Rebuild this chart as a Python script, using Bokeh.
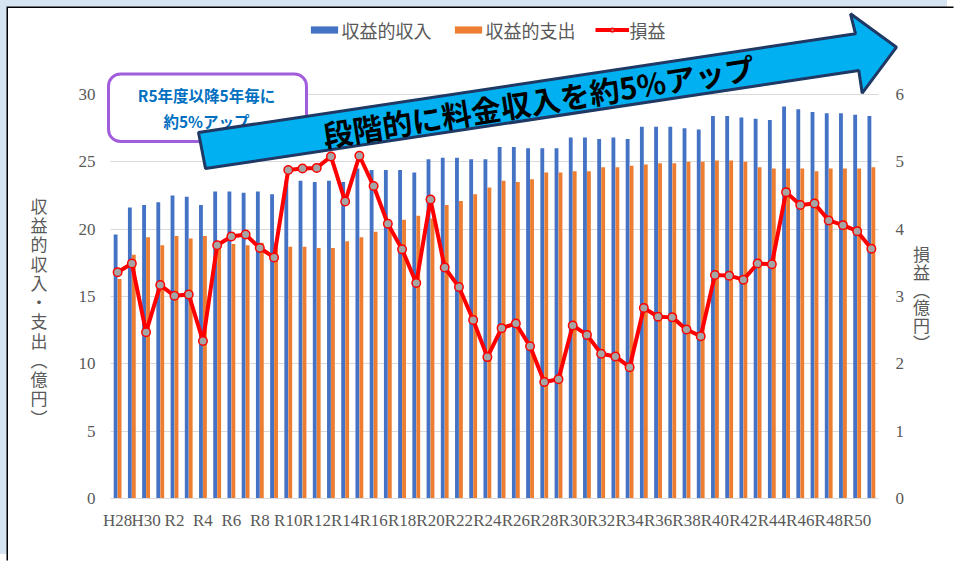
from bokeh.plotting import figure
from bokeh.models import (Range1d, LinearAxis, FixedTicker, Legend, LegendItem, Label,
                          BoxAnnotation, PolyAnnotation, ColumnDataSource)
from bokeh.transform import dodge
from bokeh.embed import file_html
from bokeh.resources import INLINE

# ---------------- data ----------------
years = ["H28", "H29", "H30", "R1", "R2", "R3", "R4", "R5", "R6", "R7", "R8", "R9", "R10",
         "R11", "R12", "R13", "R14", "R15", "R16", "R17", "R18", "R19", "R20", "R21", "R22",
         "R23", "R24", "R25", "R26", "R27", "R28", "R29", "R30", "R31", "R32", "R33", "R34",
         "R35", "R36", "R37", "R38", "R39", "R40", "R41", "R42", "R43", "R44", "R45", "R46",
         "R47", "R48", "R49", "R50", "R51"]
revenue = [19.6, 21.6, 21.8, 22.0, 22.5, 22.4, 21.8, 22.8, 22.8, 22.7, 22.8, 22.6, 23.6,
           23.6, 23.5, 23.6, 23.5, 24.5, 24.4, 24.4, 24.4, 24.2, 25.2, 25.3, 25.3,
           25.2, 25.2, 26.1, 26.1, 26.0, 26.0, 26.0, 26.8, 26.8, 26.7, 26.8, 26.7,
           27.6, 27.6, 27.6, 27.5, 27.4, 28.4, 28.4, 28.3, 28.2, 28.1, 29.1, 28.9,
           28.7, 28.6, 28.6, 28.5, 28.4]
expense = [16.3, 18.1, 19.4, 18.8, 19.5, 19.3, 19.5, 19.1, 18.9, 18.8, 19.0, 19.0, 18.7,
           18.7, 18.6, 18.6, 19.1, 19.4, 19.8, 20.3, 20.7, 21.0, 20.8, 21.8, 22.1,
           22.6, 23.1, 23.6, 23.5, 23.7, 24.2, 24.2, 24.3, 24.3, 24.6, 24.6, 24.7,
           24.8, 24.9, 24.9, 25.0, 25.0, 25.1, 25.1, 25.0, 24.6, 24.5, 24.5, 24.5,
           24.3, 24.5, 24.5, 24.5, 24.6]
profit = [3.36, 3.49, 2.47, 3.17, 3.01, 3.03, 2.34, 3.76, 3.89, 3.92, 3.72, 3.58, 4.88,
          4.90, 4.91, 5.08, 4.41, 5.09, 4.64, 4.08, 3.70, 3.20, 4.44, 3.43, 3.14,
          2.65, 2.10, 2.53, 2.60, 2.26, 1.73, 1.77, 2.57, 2.43, 2.15, 2.11, 1.95,
          2.83, 2.70, 2.69, 2.51, 2.41, 3.32, 3.31, 3.25, 3.49, 3.48, 4.55, 4.36,
          4.38, 4.13, 4.06, 3.97, 3.71]
left_ticks = [0, 5, 10, 15, 20, 25, 30]
right_ticks = [0, 1, 2, 3, 4, 5, 6]
idx = list(range(len(years)))
shown = {i: years[i] for i in idx if i % 2 == 0}

# ---------------- layout (page pixels) ----------------
CW, CH = 947, 554                 # canvas, placed at page (8, 8)
FL, FR, FT, FB = 104, 900, 8, 498   # plot frame on the page
CAT0, CATW = 110.0, 768.0 / 54     # left edge of first category, category width
PX30 = 94.0                         # page y of the value 30 on the left axis

def sx(X):
    return X - FL
def sy(Y):
    return FB - Y

x_lo = -0.5 - (CAT0 - FL) / CATW
x_hi = -0.5 + (FR - CAT0) / CATW
y_hi = 30 * (FB - FT) / (FB - PX30)

FONT_CJK = "Noto Sans CJK JP"
FONT_NUM = "Liberation Serif"
GRAY_TXT = "#595959"

p = figure(width=CW, height=CH, x_range=Range1d(x_lo, x_hi), y_range=Range1d(0, y_hi),
           output_backend="svg", toolbar_location=None,
           min_border_left=FL - 8, min_border_top=FT - 8,
           min_border_right=CW + 8 - FR, min_border_bottom=CH + 8 - FB)
p.margin = (8, 0, 0, 8)
p.styles = {"box-shadow": "-1.5px -1.5px 0 0 #000000, -8px -8px 0 0 #d6e4f2"}
p.background_fill_color = "white"
p.border_fill_color = "white"
p.outline_line_color = None
p.extra_y_ranges = {"right": Range1d(0, y_hi / 5)}

src = ColumnDataSource(dict(idx=idx, year=years, revenue=revenue, expense=expense, profit=profit))
r_rev = p.vbar(x=dodge("idx", -0.14), top="revenue", width=0.27, source=src,
               fill_color="#4472C4", line_color=None)
r_exp = p.vbar(x=dodge("idx", 0.14), top="expense", width=0.27, source=src,
               fill_color="#ED7D31", line_color=None)
r_line = p.line(x="idx", y="profit", source=src, y_range_name="right",
                line_color="#FF0000", line_width=4)
r_pts = p.scatter(x="idx", y="profit", source=src, y_range_name="right", size=8.5,
                  fill_color="#A5A5A5", line_color="#FF0000", line_width=1.5)

# axes
p.yaxis.ticker = FixedTicker(ticks=left_ticks)
right_axis = LinearAxis(y_range_name="right", ticker=FixedTicker(ticks=right_ticks))
p.add_layout(right_axis, "right")
for ax in p.yaxis:
    ax.axis_line_color = None
    ax.major_tick_line_color = None
    ax.minor_tick_line_color = None
    ax.major_tick_out = 0
    ax.major_tick_in = 0
    ax.minor_tick_out = 0
    ax.minor_tick_in = 0
    ax.major_label_text_font = FONT_NUM
    ax.major_label_text_font_size = "17px"
    ax.major_label_text_color = GRAY_TXT
    ax.axis_label_orientation = "horizontal"
    ax.axis_label_text_font = FONT_CJK
    ax.axis_label_text_font_size = "17px"
    ax.axis_label_text_font_style = "normal"
    ax.axis_label_text_color = GRAY_TXT

left_axis = p.yaxis[0]
left_axis.major_label_standoff = 9
left_axis.axis_label = "\n".join(["　"] * 6 + list("収益的収入・支出") + ["︵", "億", "円", "︶"])
left_axis.axis_label_text_line_height = 0.77
left_axis.axis_label_standoff = 28
right_axis.major_label_standoff = -5
right_axis.axis_label = "\n".join(["　"] * 5 + ["損", "益", "︵", "億", "円", "︶"])
right_axis.axis_label_text_line_height = 0.71
right_axis.axis_label_standoff = 6

xa = p.xaxis[0]
xa.ticker = FixedTicker(ticks=sorted(shown))
xa.major_label_overrides = shown
xa.bounds = (-0.5, len(years) - 0.5)
xa.axis_line_color = "#d9d9d9"
xa.major_tick_line_color = None
xa.minor_tick_line_color = None
xa.major_tick_out = 0
xa.major_tick_in = 0
xa.minor_tick_out = 0
xa.major_label_standoff = 12
xa.major_label_text_font = FONT_NUM
xa.major_label_text_font_size = "17px"
xa.major_label_text_color = GRAY_TXT

p.xgrid.visible = False
p.ygrid.grid_line_color = "#d9d9d9"
p.ygrid.grid_line_width = 1
p.ygrid.cross_bounds = (-0.5, len(years) - 0.5)

# legend
legend = Legend(items=[LegendItem(label="収益的収入", renderers=[r_rev]),
                       LegendItem(label="収益的支出", renderers=[r_exp]),
                       LegendItem(label="損益", renderers=[r_line, r_pts])],
                location=(sx(306.6), sy(42.5)), orientation="horizontal",
                border_line_color=None, background_fill_alpha=0,
                label_text_font=FONT_CJK, label_text_font_size="18px",
                label_text_color=GRAY_TXT, glyph_width=34, glyph_height=9,
                spacing=19, label_standoff=1, padding=0, margin=0)
p.add_layout(legend)

# callout box
p.add_layout(BoxAnnotation(left=sx(108), right=sx(306), top=sy(73.5), bottom=sy(141),
                           left_units="screen", right_units="screen", top_units="screen",
                           bottom_units="screen", fill_color="white", fill_alpha=1,
                           line_color="#A25DDC", line_alpha=1, line_width=3,
                           border_radius=12))
p.add_layout(Label(x=sx(206), y=sy(107.5), x_units="screen", y_units="screen",
                   text="R5年度以降5年毎に\n約5%アップ", text_align="center",
                   text_baseline="middle", text_font=FONT_CJK, text_font_style="bold",
                   text_font_size="15.5px", text_color="#0070C0", text_line_height=1.15))

# big arrow
arrow_pts = [(198, 132), (855, 33.3), (850, 13.3), (896, 46.7), (861.7, 92.7), (858.3, 70), (205, 168)]
p.add_layout(PolyAnnotation(xs=[sx(a) for a, b in arrow_pts], ys=[sy(b) for a, b in arrow_pts],
                            xs_units="screen", ys_units="screen", fill_color="#00B0F0",
                            fill_alpha=1, line_color="#1F3864", line_alpha=1, line_width=3))
p.add_layout(Label(x=sx(538), y=sy(100), x_units="screen", y_units="screen",
                   text="段階的に料金収入を約5%アップ", angle=0.157, text_align="center",
                   text_baseline="middle", text_font=FONT_CJK, text_font_style="bold",
                   text_font_size="30px", text_color="black"))

open("out.html", "w").write(file_html(p, INLINE))
